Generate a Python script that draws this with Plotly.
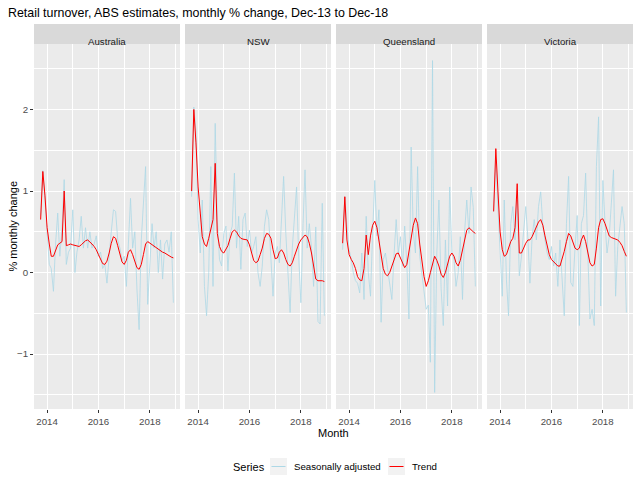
import pandas as pd
import plotly.graph_objects as go
from plotly.subplots import make_subplots

# monthly % change, Oct-2013 .. Dec-2018
months = pd.date_range("2013-10-01", "2018-12-01", freq="MS")
states = ["Australia", "NSW", "Queensland", "Victoria"]

aus_sa = [0.7, 1.25, 0.9, 0.45, 0.1, 0.05, -0.23, 0.35, 0.73, 0.2,
          0.55, 1.14, 0.1, 0.25, 0.3, 0.77, 0.0, 0.25, 0.4, 0.69,
          0.3, 0.55, 0.3, 0.5, 0.3, 0.35, 0.45, 0.2, 0.25, 0.05,
          0.1, -0.13, 0.25, 0.5, 0.77, 0.75, 0.4, 0.3, 0.15, 0.2,
          -0.17, 0.3, 0.91, 0.3, 0.5, -0.2, -0.7, 0.4, 0.9, 1.3,
          -0.39, 0.2, 0.6, 0.3, 0.5, 0.0, 0.4, -0.08, 0.35, 0.4,
          0.25, 0.5, -0.37]
aus_trend = [0.65, 1.24, 0.95, 0.55, 0.35, 0.2, 0.2, 0.27, 0.34, 0.36,
             0.38, 1.0, 0.33, 0.34, 0.35, 0.34, 0.33, 0.33, 0.32, 0.34,
             0.37, 0.39, 0.4, 0.38, 0.35, 0.32, 0.28, 0.22, 0.15, 0.11,
             0.1, 0.14, 0.24, 0.36, 0.44, 0.42, 0.33, 0.22, 0.13, 0.1,
             0.15, 0.25, 0.28, 0.22, 0.13, 0.06, 0.04, 0.1, 0.22, 0.35,
             0.38, 0.36, 0.34, 0.32, 0.3, 0.29, 0.27, 0.25, 0.24, 0.22,
             0.2, 0.19, 0.18]

nsw_sa = [0.93, 2.03, 1.74, 0.65, 0.24, 0.89, -0.17, -0.53, 0.0, 1.3,
          -0.17, 1.83, 0.65, 0.16, 0.08, 0.48, 0.57, 0.02, 0.48, 0.57,
          1.22, 0.3, 0.69, 0.04, 0.65, 0.73, 0.32, 0.52, 0.24, 0.32,
          0.44, 0.0, -0.17, 0.08, 0.57, 0.77, 0.65, 0.24, -0.29, 0.24,
          0.32, 0.12, 0.6, 1.18, 0.48, 0.0, -0.49, 0.3, 0.7, 1.05,
          0.2, -0.37, 0.6, 1.26, 0.3, 0.6, 0.3, -0.17, 0.56, -0.6,
          -0.63, 0.85, -0.53]
nsw_trend = [1.0, 2.0, 1.6, 1.05, 0.73, 0.44, 0.35, 0.32, 0.42, 0.55,
             0.65, 1.34, 0.48, 0.32, 0.26, 0.24, 0.28, 0.33, 0.42, 0.5,
             0.52, 0.5, 0.45, 0.42, 0.41, 0.4, 0.4, 0.34, 0.24, 0.15,
             0.12, 0.14, 0.22, 0.3, 0.42, 0.48, 0.47, 0.42, 0.28, 0.17,
             0.18, 0.25, 0.28, 0.24, 0.16, 0.1, 0.08, 0.12, 0.2, 0.28,
             0.35, 0.4, 0.43, 0.46, 0.44, 0.36, 0.24, 0.1, -0.08, -0.1,
             -0.1, -0.1, -0.11]

qld_sa = [0.28, 0.93, 0.57, 0.28, 0.16, 0.0, -0.1, -0.13, -0.25, 0.24,
          -0.33, 0.69, 0.0, -0.29, 0.48, 1.13, 0.45, 0.77, -0.61, 0.16,
          0.24, 0.04, -0.12, -0.33, 0.2, 0.65, 0.24, 0.44, 0.08, 0.57,
          0.1, -0.57, 1.54, 0.5, 0.24, 1.3, 0.2, 0.0, -0.25, -0.45,
          -0.4, -1.1, 2.6, -1.47, 0.24, 0.89, -0.2, -0.65, 0.4, -0.41,
          1.05, 0.24, 0.16, -0.17, 0.0, 0.44, -0.33, 0.5, 0.89, 0.48,
          1.05, 0.8, -0.17]
qld_trend = [0.36, 0.93, 0.4, 0.22, 0.16, 0.12, 0.05, -0.05, -0.09, -0.1,
             0.05, 0.46, 0.22, 0.45, 0.58, 0.63, 0.55, 0.4, 0.18, 0.05,
             -0.02, -0.04, 0.0, 0.08, 0.16, 0.23, 0.24, 0.18, 0.1, 0.06,
             0.1, 0.25, 0.4, 0.58, 0.67, 0.6, 0.35, 0.12, -0.05, -0.17,
             -0.1, 0.0, 0.12, 0.2, 0.15, 0.08, -0.02, -0.06, 0.0, 0.1,
             0.2, 0.24, 0.2, 0.12, 0.08, 0.15, 0.28, 0.4, 0.52, 0.55,
             0.52, 0.5, 0.48]

vic_sa = [0.75, 1.38, 0.81, 0.24, -0.29, 0.89, -0.09, -0.53, 0.6, 0.81,
          0.4, 0.89, -0.04, 0.2, 0.48, 0.81, 0.4, -0.13, 0.44, 0.65,
          0.4, 0.81, 0.99, 0.57, 0.4, 0.24, 0.16, 0.32, 0.08, 0.24,
          -0.17, 0.4, -0.09, -0.53, 0.6, 1.18, -0.12, -0.17, 0.3, 0.7,
          -0.65, 0.6, 0.7, 1.22, 0.24, -0.57, -0.45, -0.65, 1.3, 1.91,
          -0.41, 1.13, 0.6, 0.24, 0.44, 0.8, 1.26, -0.29, 0.32, 0.57,
          0.81, 0.6, -0.49]
vic_trend = [0.75, 1.52, 1.0, 0.5, 0.28, 0.2, 0.22, 0.3, 0.38, 0.42,
             0.55, 1.09, 0.24, 0.24, 0.3, 0.36, 0.4, 0.4, 0.44, 0.5,
             0.55, 0.62, 0.65, 0.58, 0.45, 0.32, 0.22, 0.16, 0.13, 0.1,
             0.08, 0.08, 0.16, 0.26, 0.38, 0.48, 0.45, 0.38, 0.3, 0.28,
             0.3, 0.4, 0.46, 0.38, 0.22, 0.12, 0.08, 0.1, 0.3, 0.55,
             0.65, 0.66, 0.6, 0.52, 0.45, 0.43, 0.42, 0.41, 0.4, 0.37,
             0.33, 0.26, 0.2]

sa_series = [aus_sa, nsw_sa, qld_sa, vic_sa]
trend_series = [aus_trend, nsw_trend, qld_trend, vic_trend]
series_names = ["Seasonally adjusted", "Trend"]
series_colors = ["lightblue", "red"]

FONT = "Liberation Sans, Arial, sans-serif"
W, H = 640, 487
ML, MR, MT, MB = 34, 7, 44, 78
plot_w = W - ML - MR
plot_h = H - MT - MB
gap = 5


def px(x):
    return (x - ML) / plot_w


def py(y):
    return (H - MB - y) / plot_h


fig = make_subplots(rows=1, cols=4, shared_yaxes=True,
                    horizontal_spacing=gap / plot_w)

for k in range(4):
    fig.add_trace(go.Scatter(x=months, y=sa_series[k], mode="lines",
                             line=dict(color=series_colors[0], width=0.8),
                             name=series_names[0], showlegend=False),
                  row=1, col=k + 1)
    fig.add_trace(go.Scatter(x=months, y=trend_series[k], mode="lines",
                             line=dict(color=series_colors[1], width=1),
                             name=series_names[1], showlegend=False),
                  row=1, col=k + 1)

# ggplot style 5% expansion
span = months[-1] - months[0]
xr = [months[0] - span * 0.05, months[-1] + span * 0.05]
allv = sum(sa_series + trend_series, [])
lo, hi = min(allv), max(allv)
yr = [lo - 0.05 * (hi - lo), hi + 0.05 * (hi - lo)]

panel_w = (plot_w - 3 * gap) / 4
for k in range(4):
    d0 = k * (panel_w + gap) / plot_w
    d1 = (k * (panel_w + gap) + panel_w) / plot_w
    ax = "xaxis" if k == 0 else f"xaxis{k + 1}"
    fig.layout[ax].domain = [d0, d1]

tickfont = dict(family=FONT, size=9.7, color="#4D4D4D")
fig.update_xaxes(range=xr, tick0="2014-01-01", dtick="M24", tickformat="%Y",
                 showgrid=True, gridcolor="white", gridwidth=1,
                 minor=dict(tick0="2014-01-01", dtick="M12", showgrid=True,
                            gridcolor="white", gridwidth=0.5),
                 ticks="outside", ticklen=3, tickcolor="#333333",
                 tickfont=tickfont, zeroline=False, showline=False,
                 automargin=False)
fig.update_yaxes(range=yr, tick0=0, dtick=1,
                 showgrid=True, gridcolor="white", gridwidth=1,
                 minor=dict(tick0=0, dtick=0.5, showgrid=True,
                            gridcolor="white", gridwidth=0.5),
                 zeroline=False, showline=False, automargin=False)
fig.update_layout(yaxis=dict(ticks="outside", ticklen=3, tickcolor="#333333",
                             tickfont=tickfont))

# facet strips
strip_h = 20 / plot_h
for k, st in enumerate(states):
    xref = "x domain" if k == 0 else f"x{k + 1} domain"
    fig.add_shape(type="rect", xref=xref, yref="y domain",
                  x0=0, x1=1, y0=1, y1=1 + strip_h,
                  fillcolor="#D9D9D9", line=dict(width=0), layer="below")
    fig.add_annotation(xref=xref, yref="y domain", x=0.5, y=1 + strip_h / 2,
                       text=st, showarrow=False,
                       font=dict(family=FONT, size=9.7, color="#1A1A1A"))

# axis titles
fig.add_annotation(xref="paper", yref="paper", x=0.5, y=py(433),
                   text="Month", showarrow=False, yanchor="middle",
                   font=dict(family=FONT, size=11, color="black"))
fig.add_annotation(xref="paper", yref="paper", x=px(12), y=0.5,
                   text="% monthly change", textangle=-90, showarrow=False,
                   xanchor="center",
                   font=dict(family=FONT, size=11, color="black"))

# legend drawn ggplot-style: title, grey key boxes, line samples
ly = 466.5
fig.add_annotation(xref="paper", yref="paper", x=px(231), y=py(ly),
                   text="Series", showarrow=False, xanchor="left",
                   yanchor="middle", font=dict(family=FONT, size=11, color="black"))
key_x = [270, 388]
for name, color, kx in zip(series_names, series_colors, key_x):
    fig.add_shape(type="rect", xref="paper", yref="paper",
                  x0=px(kx), x1=px(kx + 17), y0=py(ly + 8.5), y1=py(ly - 8.5),
                  fillcolor="#F2F2F2", line=dict(width=0))
    fig.add_shape(type="line", xref="paper", yref="paper",
                  x0=px(kx + 1.5), x1=px(kx + 15.5), y0=py(ly), y1=py(ly),
                  line=dict(color=color, width=1))
    fig.add_annotation(xref="paper", yref="paper", x=px(kx + 22), y=py(ly),
                       text=name, showarrow=False, xanchor="left",
                       yanchor="middle",
                       font=dict(family=FONT, size=9.7, color="black"))

fig.update_layout(
    width=W, height=H,
    margin=dict(l=ML, r=MR, t=MT, b=MB),
    paper_bgcolor="white", plot_bgcolor="#EBEBEB",
    font=dict(family=FONT, color="black"),
    showlegend=False,
    title=dict(text="Retail turnover, ABS estimates, monthly % change, Dec-13 to Dec-18",
               x=8 / W, xref="container", xanchor="left",
               y=1 - 13 / H, yref="container", yanchor="middle",
               font=dict(family=FONT, size=12.4, color="black")),
)

fig.write_html("out.html", config={"displayModeBar": False},
               post_script="document.body.style.margin='0px';")
